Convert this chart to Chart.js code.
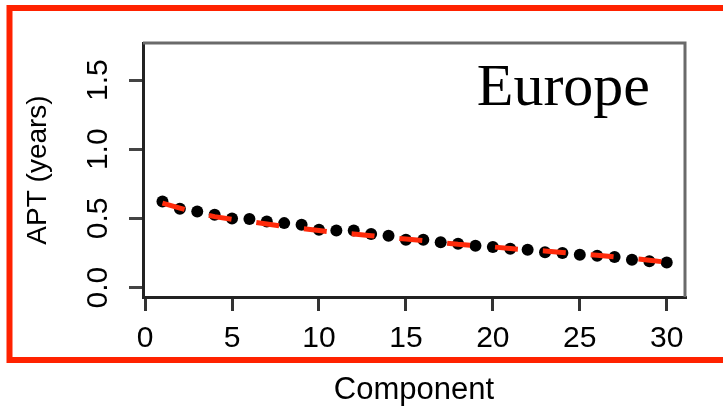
<!DOCTYPE html>
<html>
<head>
<meta charset="utf-8">
<script src="https://cdn.jsdelivr.net/npm/chart.js@4/dist/chart.umd.min.js"></script>
<style>
  html, body { margin: 0; padding: 0; background: #fff; }
  #wrap { width: 723px; height: 409px; }
</style>
</head>
<body>
<div id="wrap"><canvas id="aptChart" width="723" height="409"></canvas></div>
<script>
// component index, observed APT and the fitted trend
const components = [1, 2, 3, 4, 5, 6, 7, 8, 9, 10, 11, 12, 13, 14, 15,
                    16, 17, 18, 19, 20, 21, 22, 23, 24, 25, 26, 27, 28, 29, 30]
const aptValues = [0.622, 0.570, 0.550, 0.526, 0.500, 0.495, 0.478, 0.466, 0.454, 0.418,
                   0.413, 0.413, 0.387, 0.375, 0.346, 0.346, 0.327, 0.317, 0.303, 0.293,
                   0.281, 0.274, 0.255, 0.250, 0.238, 0.231, 0.221, 0.202, 0.190, 0.182]
const aptFit = [0.611, 0.575, 0.540, 0.513, 0.494, 0.478, 0.460, 0.442, 0.427, 0.412,
                0.398, 0.388, 0.375, 0.363, 0.351, 0.339, 0.325, 0.313, 0.304, 0.294,
                0.282, 0.272, 0.265, 0.254, 0.244, 0.234, 0.222, 0.211, 0.198, 0.183]
const xTicks = [0, 5, 10, 15, 20, 25, 30]
const yTicks = [0, 0.5, 1.0, 1.5]
const region = "Europe"

const sans = "'Liberation Sans', Arial, sans-serif"

// frame, plot box, rotated y labels and region name
const extras = {
  id: 'extras',
  afterDraw(chart) {
    const ctx = chart.ctx
    const a = chart.chartArea
    const ys = chart.scales.y
    ctx.save()

    ctx.strokeStyle = '#ff2200'
    ctx.lineWidth = 6
    ctx.strokeRect(9.5, 8, 760, 352)

    ctx.strokeStyle = '#6a6a6a'
    ctx.lineWidth = 3
    ctx.beginPath()
    ctx.moveTo(a.left, a.top)
    ctx.lineTo(a.right, a.top)
    ctx.lineTo(a.right, a.bottom)
    ctx.stroke()

    ctx.fillStyle = '#000'
    ctx.font = '30px ' + sans
    ctx.textAlign = 'center'
    ctx.textBaseline = 'alphabetic'
    yTicks.forEach(v => {
      ctx.save()
      ctx.translate(107, ys.getPixelForValue(v))
      ctx.rotate(-Math.PI / 2)
      ctx.fillText(v.toFixed(1), 0, 0)
      ctx.restore()
    })

    ctx.font = "60px 'Liberation Serif', 'Times New Roman', serif"
    ctx.textAlign = 'right'
    ctx.fillText(region, 650, 105)
    ctx.restore()
  }
}

new Chart('aptChart', {
  type: 'scatter',
  data: {
    datasets: [{
      data: components.map((c, i) => ({x: c, y: aptValues[i]})),
      pointRadius: 6,
      pointBackgroundColor: '#000',
      pointBorderWidth: 0,
      order: 2
    }, {
      type: 'line',
      data: components.map((c, i) => ({x: c, y: aptFit[i]})),
      borderColor: '#ff2a0a',
      borderWidth: 5,
      borderDash: [23, 25],
      pointRadius: 0,
      fill: false,
      tension: 0,
      order: 1
    }]
  },
  options: {
    responsive: false,
    devicePixelRatio: 1,
    animation: false,
    layout: {padding: {top: 43, right: 38, left: 0, bottom: 0}},
    plugins: {legend: {display: false}, tooltip: {enabled: false}},
    scales: {
      x: {
        type: 'linear',
        min: -0.12,
        max: 31.05,
        afterBuildTicks: s => { s.ticks = xTicks.map(v => ({value: v})) },
        afterFit: s => { s.height = 112 },
        grid: {drawOnChartArea: false, drawTicks: true, tickLength: 14, color: '#333', lineWidth: 3},
        border: {display: true, color: '#222', width: 3},
        ticks: {color: '#000', font: {family: sans, size: 30}, padding: 10, maxRotation: 0, autoSkip: false},
        title: {display: true, text: 'Component', color: '#000', font: {family: sans, size: 31}, padding: {top: 0, bottom: 0}}
      },
      y: {
        type: 'linear',
        min: -0.068,
        max: 1.768,
        afterBuildTicks: s => { s.ticks = yTicks.map(v => ({value: v})) },
        afterFit: s => { s.width = 143 },
        grid: {drawOnChartArea: false, drawTicks: true, tickLength: 14, color: '#444', lineWidth: 3},
        border: {display: true, color: '#222', width: 3},
        ticks: {display: false},
        title: {display: true, text: 'APT (years)', color: '#000', font: {family: sans, size: 28}, padding: {top: 21, bottom: 0}}
      }
    }
  },
  plugins: [extras]
})
</script>
</body>
</html>
